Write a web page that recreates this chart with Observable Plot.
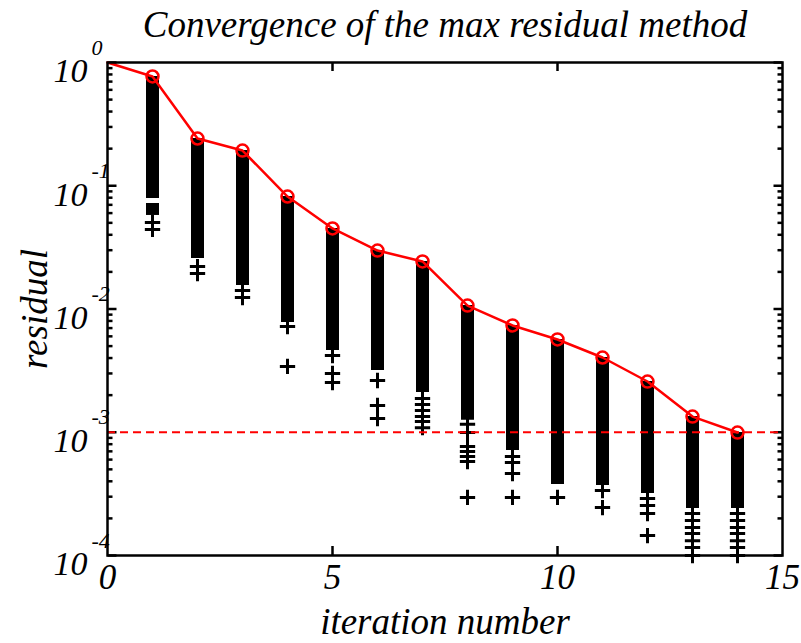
<!DOCTYPE html>
<html>
<head>
<meta charset="utf-8">
<script src="https://cdn.jsdelivr.net/npm/d3@7"></script>
<script src="https://cdn.jsdelivr.net/npm/@observablehq/plot@0.6"></script>
<style>
  html, body { margin: 0; padding: 0; background: #fff; }
  #chart svg { display: block; }
</style>
</head>
<body>
<div id="chart"></div>
<script>
// ---- data ----
const titleText = "Convergence of the max residual method";
const xLabel = "iteration number";
const yLabel = "residual";

const iterations = [0, 1, 2, 3, 4, 5, 6, 7, 8, 9, 10, 11, 12, 13, 14];
const maxResidual = [1.0, 0.770, 0.2417, 0.193, 0.0818, 0.045, 0.0298, 0.0243, 0.01067, 0.00735, 0.00566, 0.00404, 0.00258, 0.00134, 0.000995];

// dense clusters of residual markers: iteration, upper and lower residual
const clusterIter = [1, 1, 2, 3, 4, 5, 6, 7, 8, 9, 10, 11, 12, 13, 14];
const clusterHigh = [0.770, 0.0718, 0.2417, 0.193, 0.0818, 0.045, 0.0298, 0.0243, 0.01067, 0.00735, 0.00566, 0.00404, 0.00258, 0.00134, 0.000995];
const clusterLow  = [0.0788, 0.0574, 0.0257, 0.0155, 0.00777, 0.00461, 0.00317, 0.00210, 0.00125, 0.000711, 0.000377, 0.000370, 0.000318, 0.000241, 0.000241];

// individual residual markers away from the clusters
const pointIter = [1, 1, 2, 2, 3, 3, 4, 4, 5, 5, 5, 6, 6, 6,
  7, 7, 7, 7, 7, 7,
  8, 8, 8, 8, 8, 8, 8,
  9, 9, 9, 9,
  10,
  11, 11,
  12, 12, 12, 12,
  13, 13, 13, 13, 13, 13, 13,
  14, 14, 14, 14, 14, 14, 14];
const pointResidual = [0.0503, 0.0442, 0.0221, 0.0194, 0.0141, 0.0124, 0.00721, 0.00342, 0.00419, 0.00300, 0.00253, 0.00263, 0.00165, 0.00129,
  0.00188, 0.00168, 0.00150, 0.00134, 0.00122, 0.00109,
  0.00116, 0.000995, 0.000766, 0.000698, 0.000636, 0.000579, 0.000296,
  0.000636, 0.000568, 0.000463, 0.000296,
  0.000296,
  0.000337, 0.000245,
  0.000290, 0.000254, 0.000219, 0.000145,
  0.000219, 0.000192, 0.000169, 0.000151, 0.000132, 0.000116, 0.0001,
  0.000219, 0.000192, 0.000169, 0.000151, 0.000132, 0.000116, 0.0001];

const tolerance = 0.001;

const xTicks = [0, 5, 10, 15];
const xInnerTicks = [5, 10];
const yTicks = [1, 0.1, 0.01, 0.001, 0.0001];
const yTickExponents = ["0", "-1", "-2", "-3", "-4"];
const minorYTicks = [];
for (const base of [0.0001, 0.001, 0.01, 0.1]) for (let k = 2; k <= 9; k++) minorYTicks.push(k * base);

// ---- tables built from arrays ----
const maxTable = iterations.map((it, i) => ({it, r: maxResidual[i]}));
const clusterTable = clusterIter.map((it, i) => ({it, hi: clusterHigh[i], lo: clusterLow[i]}));
const pointTable = pointIter.map((it, i) => ({it, r: pointResidual[i]}));
const yTickTable = yTicks.map((v, i) => ({v, e: yTickExponents[i]}));

const serif = "'Liberation Serif', 'DejaVu Serif', serif";
const W = 801, H = 643, mT = 62, mB = 88, mL = 107, mR = 19;
const fw = W - mL - mR, fh = H - mT - mB;
const xMin = 0, xMax = 15, yMin = 0.0001, yMax = 1;
// tick lengths in data units (major 9px, minor 5px)
const xPerPx = (xMax - xMin) / fw;
const majX = 9 * xPerPx, minX = 5 * xPerPx;
const yTickTop = yMin * Math.pow(yMax / yMin, 9 / fh);
const yTickBot = yMax / Math.pow(yMax / yMin, 9 / fh);

const yTickSegs = [];
for (const v of yTicks) {
  yTickSegs.push({a: xMin, b: xMin + majX, y: v});
  yTickSegs.push({a: xMax - majX, b: xMax, y: v});
}
for (const v of minorYTicks) {
  yTickSegs.push({a: xMin, b: xMin + minX, y: v});
  yTickSegs.push({a: xMax - minX, b: xMax, y: v});
}
const txt = {fontFamily: serif, fontStyle: "italic", fill: "black"};

const plot = Plot.plot({
  width: W,
  height: H,
  marginTop: mT,
  marginBottom: mB,
  marginLeft: mL,
  marginRight: mR,
  style: {fontFamily: serif, background: "#fff"},
  x: {domain: [xMin, xMax], axis: null},
  y: {type: "log", domain: [yMin, yMax], axis: null},
  marks: [
    // inward major / minor ticks
    Plot.link(yTickSegs, {x1: "a", x2: "b", y1: "y", y2: "y", stroke: "black", strokeWidth: 2.5}),
    Plot.ruleX(xInnerTicks, {x: d => d, y1: yMin, y2: yTickTop, stroke: "black", strokeWidth: 2.5}),
    Plot.ruleX(xInnerTicks, {x: d => d, y1: yTickBot, y2: yMax, stroke: "black", strokeWidth: 2.5}),
    // residual clusters
    Plot.ruleX(clusterTable, {x: "it", y1: "hi", y2: "lo", stroke: "black", strokeWidth: 13}),
    Plot.dot(pointTable, {x: "it", y: "r", symbol: "plus", r: 5, stroke: "black", strokeWidth: 3}),
    // tolerance line
    Plot.ruleY([tolerance], {x1: xMin, x2: xMax, stroke: "#ff0000", strokeWidth: 2, strokeDasharray: "8,5"}),
    // max residual
    Plot.line(maxTable, {x: "it", y: "r", stroke: "#ff0000", strokeWidth: 2.5}),
    Plot.dot(maxTable.filter(d => d.it > 0), {x: "it", y: "r", r: 6, stroke: "#ff0000", strokeWidth: 2.5, fill: "none"}),
    Plot.frame({stroke: "black", strokeWidth: 2.5}),
    // y tick labels 10^k
    Plot.text(yTickTable, {y: "v", text: () => "10", frameAnchor: "left", textAnchor: "end", dx: -20, dy: 9, fontSize: 34, ...txt}),
    Plot.text(yTickTable, {y: "v", text: "e", frameAnchor: "left", textAnchor: "start", dx: -16, dy: -15, fontSize: 22, ...txt}),
    // x tick labels
    Plot.text(xTicks, {x: d => d, text: d => String(d), frameAnchor: "bottom", textAnchor: "middle", dy: 33, fontSize: 35, ...txt}),
    // axis titles
    Plot.text([xLabel], {x: 7.5, text: d => d, frameAnchor: "bottom", textAnchor: "middle", dy: 78, fontSize: 37, ...txt}),
    Plot.text([yLabel], {y: 0.01, text: d => d, frameAnchor: "left", textAnchor: "middle", rotate: -90, dx: -72, fontSize: 37, ...txt}),
    // title
    Plot.text([titleText], {x: 7.5, text: d => d, frameAnchor: "top", textAnchor: "middle", dy: -52, fontSize: 37, ...txt})
  ]
});
document.getElementById("chart").append(plot);
</script>
</body>
</html>
